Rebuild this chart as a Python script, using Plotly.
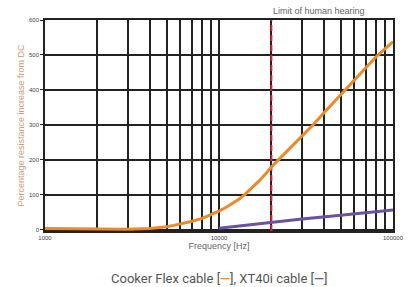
import numpy as np
import plotly.graph_objects as go

# Data
cooker_freq = [1000, 1500, 2000, 3000, 4000, 4500, 5000, 5500, 6000, 7000, 8000, 9000, 10000,
               11000, 12000, 13000, 14000, 15500, 17000, 18500, 20000, 22000, 24000, 27000,
               30000, 35000, 40000, 45000, 50000, 60000, 70000, 80000, 90000, 100000]
cooker_pct = [4, 3, 2, 2, 4, 6, 9, 13, 17, 25, 33, 43, 54,
              65, 76, 88, 100, 120, 140, 160, 180, 201, 220, 245,
              268, 302, 334, 362, 387, 429, 464, 495, 518, 538]
xt40_freq = [10000, 20000, 30000, 50000, 70000, 100000]
xt40_pct = [5, 22, 31, 42, 50, 57]
hearing_limit = 20000
y_tickvals = [0, 100, 200, 300, 400, 500, 600]
x_tickvals = [1000, 10000, 100000]
x_minor = [2000, 3000, 4000, 5000, 6000, 7000, 8000, 9000,
           20000, 30000, 40000, 50000, 60000, 70000, 80000, 90000]

ORANGE = "#ec8a2a"
PURPLE = "#6a52a2"
GRID = "#222222"

fig = go.Figure()
fig.add_trace(go.Scatter(x=[hearing_limit, hearing_limit], y=[-3, 600], mode="lines",
                         line=dict(color="#e0202a", width=2, dash="6px,4px"),
                         hoverinfo="skip", showlegend=False))
fig.add_trace(go.Scatter(x=cooker_freq, y=cooker_pct, mode="lines",
                         line=dict(color=ORANGE, width=3),
                         name="Cooker Flex cable", showlegend=False))
fig.add_trace(go.Scatter(x=xt40_freq, y=xt40_pct, mode="lines",
                         line=dict(color=PURPLE, width=3),
                         name="XT40i cable", showlegend=False))

fig.update_layout(
    width=416, height=287,
    margin=dict(l=45, r=19, t=20, b=56),
    paper_bgcolor="white", plot_bgcolor="white",
    font=dict(family="Liberation Sans, Arial, sans-serif", color="#444"),
    xaxis=dict(type="log", range=[3, 5], tickvals=x_tickvals,
               ticktext=[str(v) for v in x_tickvals],
               tickfont=dict(size=6, color="#444"),
               showgrid=True, gridcolor=GRID, gridwidth=1.5,
               minor=dict(tickvals=x_minor, showgrid=True, gridcolor=GRID, gridwidth=1.5, ticks=""),
               showline=True, linecolor=GRID, linewidth=1.5, mirror=True,
               ticks="", zeroline=False,
               title=dict(text="Frequency [Hz]", font=dict(size=9, color="#666"), standoff=3)),
    yaxis=dict(range=[-3, 600], tickvals=y_tickvals,
               tickfont=dict(size=6, color="#444"),
               showgrid=True, gridcolor=GRID, gridwidth=1.5,
               showline=True, linecolor=GRID, linewidth=1.5, mirror=True,
               ticks="outside", ticklen=3, tickcolor=GRID, zeroline=False,
               title=dict(text="Percentage resistance increase from DC",
                          font=dict(size=9, color="#c9a07a"), standoff=3)),
    annotations=[
        dict(x=np.log10(hearing_limit), y=1, xref="x", yref="paper",
             text="Limit of human hearing", showarrow=False,
             xanchor="left", yanchor="bottom", xshift=0, yshift=2,
             font=dict(size=9, color="#666")),
        dict(x=0.5, y=-0.18, xref="paper", yref="paper", yanchor="top",
             text=('Cooker Flex cable [<span style="color:%s"><b>—</b></span>], '
                   'XT40i cable [<span style="color:%s"><b>—</b></span>]') % (ORANGE, PURPLE),
             showarrow=False, font=dict(size=13, color="#555", family="Roboto, sans-serif")),
    ],
)

fig.write_html("out.html")
